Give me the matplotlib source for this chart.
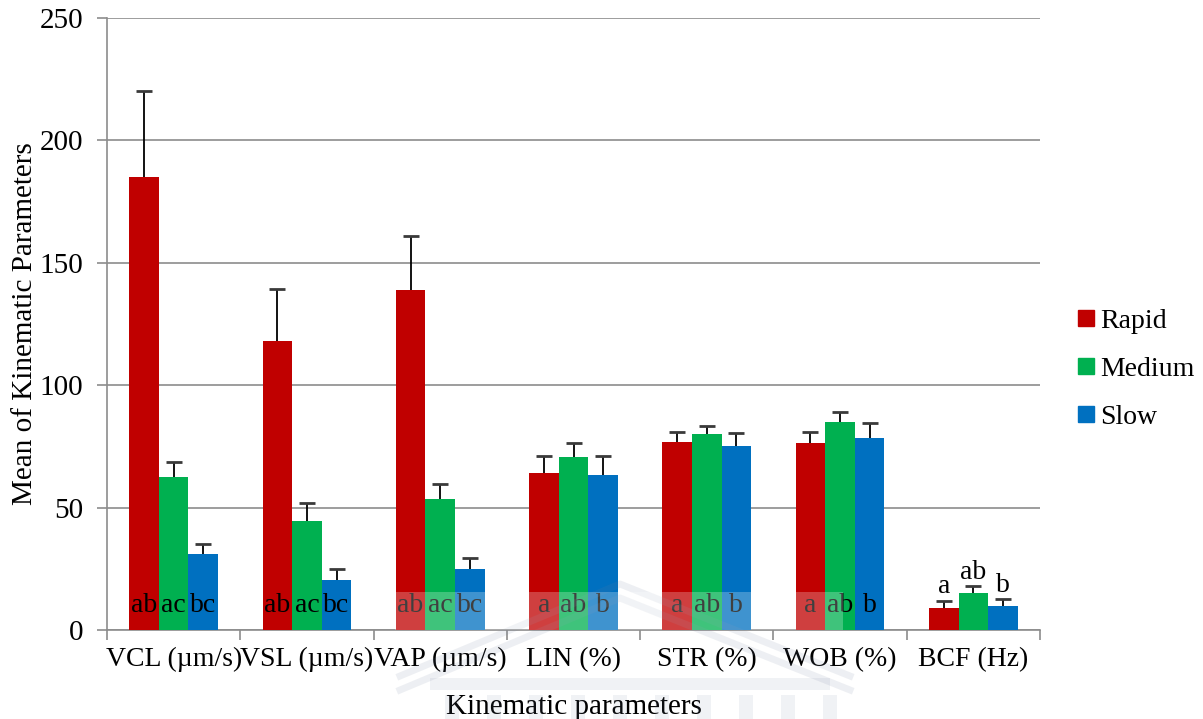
import numpy as np
import matplotlib
matplotlib.use("Agg")
import matplotlib.pyplot as plt
from matplotlib.patches import Rectangle
from matplotlib.lines import Line2D

plt.rcParams['font.family'] = ['Liberation Serif', 'DejaVu Serif']

categories = ["VCL (µm/s)", "VSL (µm/s)", "VAP (µm/s)", "LIN (%)", "STR (%)", "WOB (%)", "BCF (Hz)"]
series_names = ["Rapid", "Medium", "Slow"]
rapid = [185, 118, 139, 64, 77, 76.5, 9]
medium = [62.5, 44.5, 53.5, 70.5, 80, 85, 15]
slow = [31, 20.5, 25, 63.5, 75, 78.5, 10]
rapid_err = [35, 21.5, 22, 7, 4, 4.5, 3]
medium_err = [6, 7.5, 6, 6, 3.5, 4, 3]
slow_err = [4, 4.5, 4.5, 7.5, 5.5, 6, 2.5]
rapid_sig = ["ab", "ab", "ab", "a", "a", "a", "a"]
medium_sig = ["ac", "ac", "ac", "ab", "ab", "ab", "ab"]
slow_sig = ["bc", "bc", "bc", "b", "b", "b", "b"]
colors = ["#C00000", "#00B050", "#0070C0"]

W, H = 1203, 719
FS = 20
fig = plt.figure(figsize=(W / 100, H / 100), dpi=100)
ax = fig.add_axes([107 / W, 1 - 630 / H, (1040 - 107) / W, (630 - 18) / H])

n = len(categories)
x = np.arange(n)
bw = 0.222
values = [rapid, medium, slow]
errs = [rapid_err, medium_err, slow_err]
sigs = [rapid_sig, medium_sig, slow_sig]

for i, (vals, err, col, sig, name) in enumerate(zip(values, errs, colors, sigs, series_names)):
    pos = x + (i - 1) * bw
    vals = np.asarray(vals, float)
    err = np.asarray(err, float)
    ax.bar(pos, vals, width=bw, color=col, label=name, zorder=3)
    # upper error whisker with a cap only at its top
    ax.vlines(pos, vals, vals + err, color="black", linewidth=1.3, zorder=4)
    ax.plot(pos, vals + err, linestyle="none", marker="_", markersize=12,
            markeredgewidth=2, color="#3a3a3a", zorder=4)
    for j in range(n):
        if j < n - 1:
            ax.text(pos[j], 10, sig[j], ha="center", va="center", fontsize=FS, zorder=5)
        else:
            ax.text(pos[j], vals[j] + err[j] + 0.5, sig[j], ha="center", va="bottom",
                    fontsize=FS, zorder=5)

ax.set_xlim(-0.5, n - 0.5)
ax.set_ylim(0, 250)
ax.set_yticks(np.arange(0, 251, 50))
ax.yaxis.grid(True, color="#8c8c8c", linewidth=1.2, zorder=0)
ax.set_axisbelow(True)
for s in ["top", "right"]:
    ax.spines[s].set_visible(False)
for s in ["left", "bottom"]:
    ax.spines[s].set_color("#8c8c8c")
    ax.spines[s].set_linewidth(1.2)

ax.set_xticks(x)
ax.set_xticklabels(categories)
ax.set_xticks(np.arange(-0.5, n, 1), minor=True)
ax.tick_params(axis="x", which="major", length=0, pad=12, labelsize=FS)
ax.tick_params(axis="x", which="minor", length=7, color="#8c8c8c", width=1.2)
ax.tick_params(axis="y", length=7, color="#8c8c8c", width=1.2, labelsize=FS + 1, pad=10)

ax.set_xlabel("Kinematic parameters", fontsize=FS + 1, labelpad=16)
ax.set_ylabel("Mean of Kinematic Parameters", fontsize=FS + 1, labelpad=1)

handles = [Line2D([0], [0], marker="s", linestyle="none", markersize=11,
                  markerfacecolor=c, markeredgecolor=c) for c in colors]
fig.legend(handles, series_names, loc="center left", bbox_to_anchor=(1072 / W, 1 - 369 / H),
           frameon=False, fontsize=FS, handletextpad=0.0, labelspacing=0.82,
           handlelength=1.0, borderpad=0, borderaxespad=0)

# faint crest overlay
tf = fig.transFigure
def px(xp, yp):
    return (xp / W, 1 - yp / H)

fig.patches.append(Rectangle(px(395, 630), 448 / W, 38 / H, transform=tf,
                             facecolor="white", alpha=0.25, zorder=10, edgecolor="none"))
crest = (0.45, 0.5, 0.62)
for off in (0, 14):
    p0, p1, p2 = px(400, 690 - off), px(620, 598 - off), px(850, 690 - off)
    fig.lines.append(Line2D([p0[0], p1[0], p2[0]], [p0[1], p1[1], p2[1]],
                            transform=tf, color=crest, alpha=0.12, linewidth=5, zorder=10))
fig.patches.append(Rectangle(px(430, 690), 400 / W, 12 / H, transform=tf,
                             facecolor=crest, alpha=0.10, edgecolor="none", zorder=10))
for cx in range(445, 830, 42):
    fig.patches.append(Rectangle(px(cx, 719), 14 / W, 24 / H, transform=tf,
                                 facecolor=crest, alpha=0.10, edgecolor="none", zorder=10))

fig.savefig("out.png", dpi=100)
